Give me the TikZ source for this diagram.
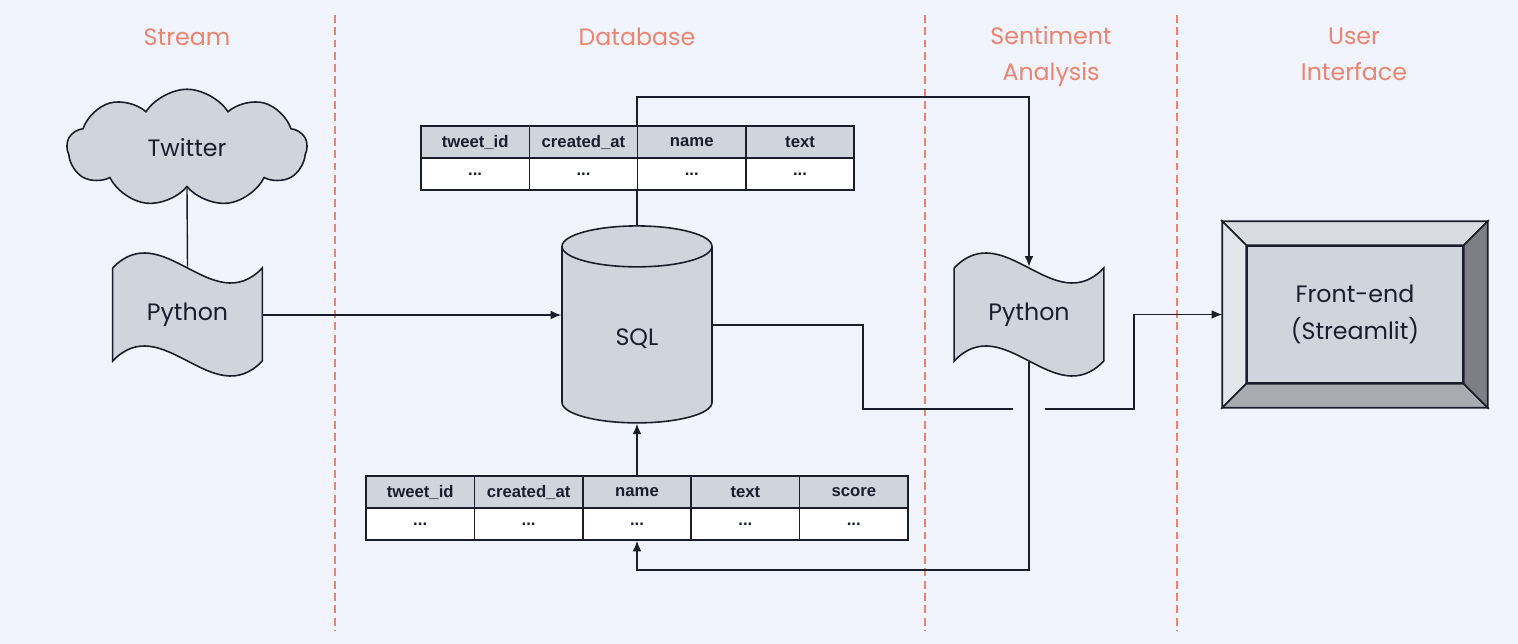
\documentclass[tikz,border=0pt]{standalone}
\usepackage{xcolor}
\usepackage{fontspec}
\setmainfont{Poppins}
\newfontfamily\tablefont{Liberation Sans}
\usetikzlibrary{shapes.symbols,shapes.geometric,arrows.meta,calc,positioning}

\definecolor{bgblue}{RGB}{241,244,252}
\definecolor{salmon}{RGB}{236,132,112}
\definecolor{shapegray}{RGB}{207,212,221}
\definecolor{lidgray}{RGB}{227,230,236}
\definecolor{inkblue}{RGB}{26,30,44}
\definecolor{bevtop}{RGB}{216,219,226}
\definecolor{bevleft}{RGB}{227,230,235}
\definecolor{bevbottom}{RGB}{168,171,178}
\definecolor{bevright}{RGB}{125,127,133}

\tikzset{
  lane/.style={draw=salmon, line width=0.8pt, dash pattern=on 4.5pt off 2.5pt},
  lanetitle/.style={text=salmon, font=\fontsize{13.5}{20.5}\selectfont, align=center},
  box/.style={draw=inkblue, line width=0.9pt, fill=shapegray, text=inkblue, font=\fontsize{13.5}{21}\selectfont, align=center},
  shapetext/.style={text=inkblue, font=\fontsize{13.5}{21}\selectfont, align=center},
  tapebox/.style={minimum width=2.98cm, minimum height=2.48cm, inner sep=0pt},
  hcell/.style={draw=inkblue, line width=0.9pt, fill=shapegray, text=inkblue, minimum width=2.166cm, minimum height=0.64cm, inner sep=0pt, font=\tablefont\bfseries\fontsize{9.5}{11}\selectfont},
  dcell/.style={hcell, fill=white},
  link/.style={draw=inkblue, line width=0.8pt},
  flow/.style={link, -{Latex[length=6pt,width=5pt]}},
}

% wavy tape outline round an empty node
\newcommand{\tapeoutline}[1]{%
  \filldraw[box] ($(#1.west)+(0,-47)$) .. controls +(49.7,-52) and +(-49.7,52) .. ($(#1.east)+(0,-47)$)
    -- ($(#1.east)+(0,46)$) .. controls +(-49.7,52) and +(49.7,-52) .. ($(#1.west)+(0,46)$) -- cycle;}

\begin{document}
\begin{tikzpicture}[x=0.02cm, y=-0.02cm]
        \fill[bgblue] (0,0) rectangle (1518,644);
        \useasboundingbox (0,0) rectangle (1518,644);
        \foreach \x in {335,925,1177} \draw[lane] (\x,15) -- (\x,630);
        \node[lanetitle] (hstream) at (187,37) {Stream};
        \node[lanetitle] (hdb) at (637,37) {Database};
        \node[lanetitle] (hsent) at (1051,55.5) {\strut Sentiment\\\strut Analysis};
        \node[lanetitle] (hui) at (1354,55.5) {\strut User\\\strut Interface};
        %
        \node[cloud, box, cloud puffs=9, cloud puff arc=115, aspect=2.1, minimum width=4.8cm, minimum height=2.35cm] (tw) at (187,148) {Twitter};
        \node[tapebox] (pyin) at (187.5,315) {};
        \tapeoutline{pyin}
        \node[shapetext] at (pyin) {Python};
        \node[cylinder, box, shape border rotate=90, aspect=0.75, minimum width=3cm, minimum height=3.94cm, cylinder uses custom fill, cylinder body fill=shapegray, cylinder end fill=lidgray] (sql) at (637,339) {SQL};
        \node[tapebox] (pysa) at (1029,315) {};
        \tapeoutline{pysa}
        \node[shapetext] at (pysa) {Python};
        %
        \node[draw=inkblue, line width=0.9pt, minimum width=5.28cm, minimum height=3.7cm, inner sep=0pt] (fe) at (1355,314.5) {};
        \node[box, minimum width=4.32cm, minimum height=2.74cm] (feface) at (fe) {Front-end\\(Streamlit)};
        \filldraw[draw=inkblue, line width=0.9pt, fill=bevtop] (fe.north west) -- (fe.north east) -- (feface.north east) -- (feface.north west) -- cycle;
        \filldraw[draw=inkblue, line width=0.9pt, fill=bevleft] (fe.north west) -- (feface.north west) -- (feface.south west) -- (fe.south west) -- cycle;
        \filldraw[draw=inkblue, line width=0.9pt, fill=bevbottom] (fe.south west) -- (feface.south west) -- (feface.south east) -- (fe.south east) -- cycle;
        \filldraw[draw=inkblue, line width=0.9pt, fill=bevright] (fe.north east) -- (feface.north east) -- (feface.south east) -- (fe.south east) -- cycle;
        %
        \coordinate (topbend) at (0,97);
        \coordinate (botbend) at (0,570);
        \draw[link] (tw.south) -- ($(pyin.north)+(0,14)$);
        \draw[flow] (pyin.east) -- (pyin.east -| sql.west);
        \draw[flow] (sql.north) -- (sql.north |- topbend) -| ($(pysa.north)+(0,14)$);
        \draw[flow] ($(sql.east)+(0,-14)$) -| (863,409) -- (1013,409) (1045,409) -- (1134,409) |- (fe.west);
        %
        \foreach \name [count=\i] in {tweet\_id,created\_at,name,text} {
            \node[hcell] (raw\i) at (421+108.3*\i-54.15,142) {\name};
            \node[dcell] (rawd\i) at (421+108.3*\i-54.15,174) {...};
        }
        \foreach \name [count=\i] in {tweet\_id,created\_at,name,text,score} {
            \node[hcell] (sc\i) at (366+108.4*\i-54.2,492) {\name};
            \node[dcell] (scd\i) at (366+108.4*\i-54.2,524) {...};
        }
        \draw[flow] (sc3.north) -- (sc3.north |- sql.south);
        \draw[flow] ($(pysa.south)+(0,-15)$) -- (pysa.south |- botbend) -| (scd3.south);
\end{tikzpicture}
\end{document}
